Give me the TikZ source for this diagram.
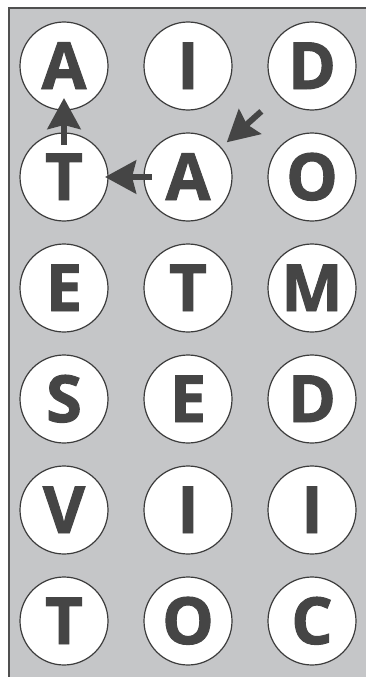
\documentclass[tikz,border=0pt]{standalone}
\usepackage{fontspec}
\setmainfont{Open Sans}
\newfontfamily\tilefont[FakeBold=1.5]{Open Sans}
\usepackage{xcolor}
\usepackage{tikz}
\usetikzlibrary{arrows.meta}

\definecolor{panelgray}{HTML}{C5C6C8}
\definecolor{inkgray}{HTML}{454545}
\definecolor{rimgray}{HTML}{3C3C3C}

\begin{document}
\begin{tikzpicture}[x=1pt,y=-1pt,
    tile/.style={circle,draw=rimgray,line width=1.2pt,fill=white,minimum size=88pt,inner sep=0pt,
      text=inkgray,font=\tilefont\fontsize{65}{65}\selectfont\bfseries,text height=46pt,text depth=0pt},
    move/.style={draw=inkgray,line width=6pt,-{Stealth[length=31pt,width=33pt,inset=4pt]}}]
  \useasboundingbox (0,0) rectangle (366,677);
  \fill[panelgray] (9,8) rectangle (366,677);
  \draw[line width=2pt,draw=rimgray!90] (366,8) -- (9,8) -- (9,677);
  % letter grid, row by row
  \foreach \r/\ws in {1/{A,I,D},2/{T,A,O},3/{E,T,M},4/{S,E,D},5/{V,I,I},6/{T,O,C}}{
    \foreach \w [count=\c] in \ws {\node[tile] (r\r c\c) at ({64+124*(\c-1)},{66+111*(\r-1)}) {\w};}
  }
  % path D -> A -> T -> A
  \draw[move,shorten <=68pt,shorten >=52pt] (r1c3.center) -- (r2c2.center);
  \draw[move,shorten <=36pt,shorten >=41pt] (r2c2.center) -- (r2c1.center);
  \draw[move,shorten <=32pt,shorten >=32pt] (r2c1.center) -- (r1c1.center);
\end{tikzpicture}
\end{document}
